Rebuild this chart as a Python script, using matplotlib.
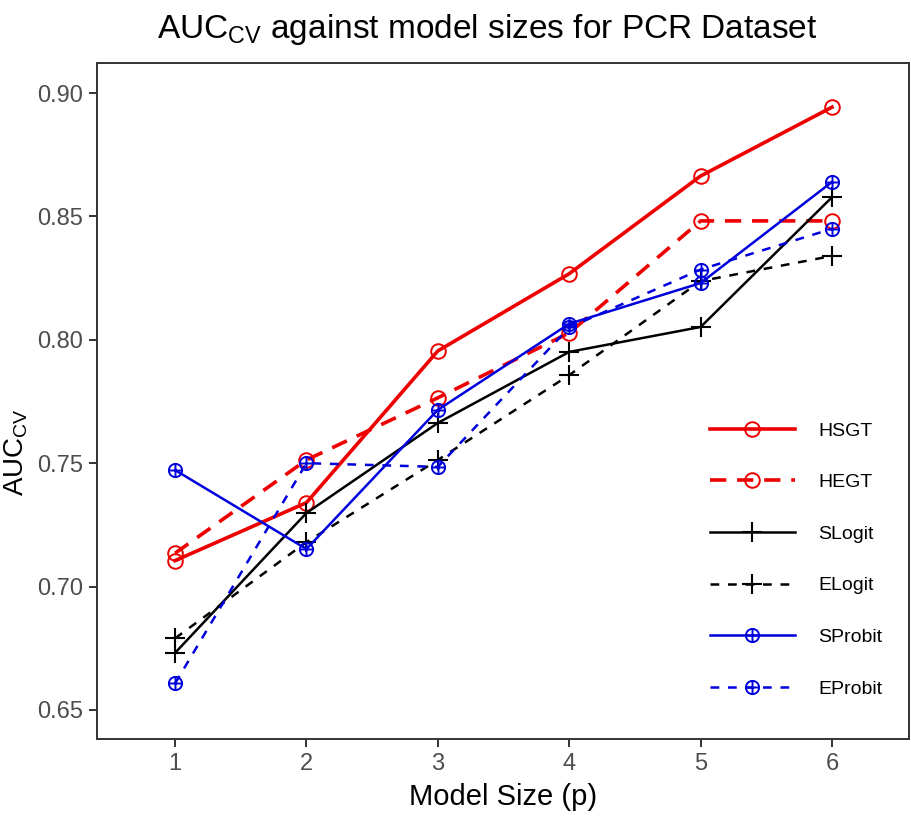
import matplotlib
matplotlib.use("Agg")
import matplotlib.pyplot as plt
from matplotlib.path import Path

plt.rcParams['font.family'] = ['Liberation Sans', 'DejaVu Sans']
plt.rcParams['mathtext.fontset'] = 'custom'
plt.rcParams['mathtext.rm'] = 'Liberation Sans'
plt.rcParams['mathtext.it'] = 'Liberation Sans'

# data
model_size = [1, 2, 3, 4, 5, 6]
hsgt = [0.7105, 0.7340, 0.7955, 0.8268, 0.8664, 0.8943]
hegt = [0.7135, 0.7513, 0.7765, 0.8028, 0.8482, 0.8482]
slogit = [0.6731, 0.7298, 0.7663, 0.7951, 0.8052, 0.8578]
elogit = [0.6790, 0.7180, 0.7513, 0.7857, 0.8238, 0.8340]
sprobit = [0.7472, 0.7152, 0.7716, 0.8065, 0.8230, 0.8640]
eprobit = [0.6607, 0.7500, 0.7485, 0.8050, 0.8285, 0.8450]
labels = ["HSGT", "HEGT", "SLogit", "ELogit", "SProbit", "EProbit"]

# circle with a cross inside
circ = Path.unit_circle()
hbar = Path([(-1, 0), (1, 0)], [Path.MOVETO, Path.LINETO])
vbar = Path([(0, -1), (0, 1)], [Path.MOVETO, Path.LINETO])
oplus = Path.make_compound_path(circ, hbar, vbar)

fig = plt.figure(figsize=(9.11, 8.18), dpi=100)
ax = fig.add_axes([97/911, 1 - 739/818, (909-97)/911, (739-63)/818])

dash_red = (0, (4.5, 3))
dash_thin = (0, (3.5, 3.5))

ax.plot(model_size, hsgt, color='#ee0000', lw=2.6, ls='-', marker='o', ms=10.5,
        mfc='none', mew=1.4, label=labels[0])
ax.plot(model_size, hegt, color='#ee0000', lw=2.6, ls=dash_red, marker='o', ms=10.5,
        mfc='none', mew=1.4, label=labels[1])
ax.plot(model_size, slogit, color='black', lw=1.8, ls='-', marker='+', ms=15,
        mew=1.5, label=labels[2])
ax.plot(model_size, elogit, color='black', lw=1.8, ls=dash_thin, marker='+', ms=15,
        mew=1.5, label=labels[3])
ax.plot(model_size, sprobit, color='#0000dd', lw=1.8, ls='-', marker=oplus, ms=9.5,
        mfc='none', mew=1.4, label=labels[4])
ax.plot(model_size, eprobit, color='#0000dd', lw=1.8, ls=dash_thin, marker=oplus, ms=9.5,
        mfc='none', mew=1.4, label=labels[5])

ax.set_xlim(0.406, 6.586)
ax.set_ylim(0.6382, 0.9122)
ax.set_xticks(model_size)
ax.set_yticks([0.65, 0.70, 0.75, 0.80, 0.85, 0.90])
ax.set_yticklabels(["0.65", "0.70", "0.75", "0.80", "0.85", "0.90"])

for s in ax.spines.values():
    s.set_color('#333333')
    s.set_linewidth(1.4)
ax.tick_params(axis='both', colors='#333333', length=6, width=1.4,
               labelsize=17, labelcolor='#4d4d4d', pad=4)

ax.set_xlabel("Model Size (p)", fontsize=21, labelpad=6)
ax.set_ylabel(r"AUC$_{\mathrm{CV}}$", fontsize=20)
ax.yaxis.set_label_coords(-0.082, 0.425)
ax.set_title(r"AUC$_{\mathrm{CV}}$ against model sizes for PCR Dataset",
             fontsize=24, pad=18, x=0.48)

ax.legend(loc='center left', bbox_to_anchor=(0.733, 0.265), frameon=False,
          fontsize=14, handlelength=4.4, labelspacing=1.75, handletextpad=1.2)

fig.savefig("out.png", dpi=100)
